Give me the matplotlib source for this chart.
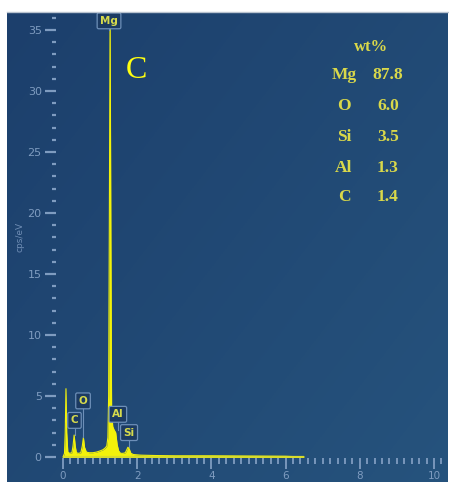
import matplotlib
matplotlib.use('Agg')
import matplotlib.pyplot as plt
import numpy as np
from matplotlib.ticker import MultipleLocator

# ---- data ----
energy = [0.00, 0.04, 0.06, 0.08, 0.10, 0.13, 0.18, 0.24, 0.27, 0.30, 0.33, 0.36,
          0.42, 0.48, 0.52, 0.55, 0.58, 0.63, 0.70, 0.80, 0.90, 1.00, 1.08, 1.14,
          1.18, 1.21, 1.23, 1.25, 1.27, 1.29, 1.31, 1.34, 1.38, 1.42, 1.46, 1.50,
          1.55, 1.62, 1.68, 1.72, 1.75, 1.78, 1.83, 1.90, 2.10, 2.50, 3.00, 4.00,
          5.00, 6.00, 6.50]
counts = [0.0, 0.3, 2.0, 5.6, 2.0, 0.4, 0.3, 0.35, 0.9, 1.8, 0.9, 0.35,
          0.3, 0.35, 0.9, 1.6, 0.8, 0.4, 0.35, 0.35, 0.4, 0.5, 0.6, 0.75,
          0.9, 1.6, 5.0, 20.0, 37.0, 18.0, 4.0, 2.5, 2.2, 2.0, 1.0, 0.5,
          0.3, 0.3, 0.35, 0.6, 0.8, 0.7, 0.3, 0.2, 0.15, 0.12, 0.1, 0.1,
          0.08, 0.06, 0.0]

peak_labels = ['C', 'O', 'Mg', 'Al', 'Si']
peak_energy = [0.31, 0.54, 1.24, 1.48, 1.78]
peak_top = [1.8, 1.6, 35.0, 2.2, 0.8]
label_y = [3.0, 4.6, 35.75, 3.5, 2.0]

elements = ['Mg', 'O', 'Si', 'Al', 'C']
wt_values = ['87.8', '6.0', '3.5', '1.3', '1.4']

sample_letter = 'C'

# ---- figure ----
W, H = 449, 482
fig = plt.figure(figsize=(W / 100, H / 100), dpi=100)
fig.patch.set_facecolor('white')

# background panel with a soft gradient
bg = fig.add_axes([7 / W, 0, (448 - 7) / W, (482 - 12) / H])
bg.set_axis_off()
gx, gy = np.meshgrid(np.linspace(0, 1, 200), np.linspace(0, 1, 200))
c0 = np.array([0x1c, 0x3f, 0x6c]) / 255
c1 = np.array([0x26, 0x53, 0x7d]) / 255
t = np.clip(0.55 * gx + 0.45 * (1 - gy), 0, 1)
img = c0[None, None, :] * (1 - t[..., None]) + c1[None, None, :] * t[..., None]
bg.imshow(img, aspect='auto', extent=[0, 1, 0, 1], origin='lower')
bg.set_xlim(0, 1)
bg.set_ylim(0, 1)
# top grey edge
fig.add_artist(plt.Line2D([7 / W, 448 / W], [1 - 12 / H, 1 - 12 / H],
                          color='#b9c3cf', lw=1.0, transform=fig.transFigure))

# main axes
px_per_x = 37.1
px_per_y = 12.2
x0_px, y0_px = 63, 457
left_px, right_px, bottom_px, top_px = 55.6, 448, 458, 12
ax = fig.add_axes([left_px / W, 1 - bottom_px / H,
                   (right_px - left_px) / W, (bottom_px - top_px) / H])
ax.set_facecolor('none')
ax.set_xlim((left_px - x0_px) / px_per_x, (right_px - x0_px) / px_per_x)
ax.set_ylim(-(bottom_px - y0_px) / px_per_y, (y0_px - top_px) / px_per_y)
for s in ax.spines.values():
    s.set_visible(False)

tick_c = '#7f9cc0'
ax.xaxis.set_major_locator(MultipleLocator(2))
ax.xaxis.set_minor_locator(MultipleLocator(0.2))
ax.yaxis.set_major_locator(MultipleLocator(5))
ax.yaxis.set_minor_locator(MultipleLocator(1))
ax.tick_params(axis='y', which='major', length=8, width=1.6, color=tick_c,
               labelcolor=tick_c, labelsize=8, pad=2)
ax.tick_params(axis='y', which='minor', length=3, width=1.6, color=tick_c)
ax.tick_params(axis='x', which='major', length=8, width=1.3, color=tick_c,
               labelcolor=tick_c, labelsize=7.5, pad=1.5)
ax.tick_params(axis='x', which='minor', length=4, width=1.3, color=tick_c)
ax.set_xticks([0, 2, 4, 6, 8, 10])
ax.set_xticklabels(['0', '2', '4', '6', '8', '10'])
ax.set_yticks([0, 5, 10, 15, 20, 25, 30, 35])
ax.set_yticklabels(['0', '5', '10', '15', '20', '25', '30', '35'])

# spectrum
yellow = '#f2f20a'
ax.fill_between(energy, counts, 0, color=yellow, lw=0)
ax.plot(energy, counts, color=yellow, lw=0.8)
ax.plot([0, 6.5], [0, 0], color='#d8dc2a', lw=1.6, solid_capstyle='butt')

# peak labels
for lab, e, top, ly in zip(peak_labels, peak_energy, peak_top, label_y):
    ax.plot([e, e], [top, ly], color='#6d8fb8', lw=0.8, zorder=3)
    ax.text(e, ly, lab, ha='center', va='center', fontsize=7.5,
            fontweight='bold', color='#d6da4c', zorder=4,
            bbox=dict(boxstyle='round,pad=0.28,rounding_size=0.15',
                      fc='#1b3a62', ec='#6d8fb8', lw=0.9))

fig.text(20 / W, 1 - 237 / H, 'cps/eV', rotation=90, ha='center', va='center',
         fontsize=6.5, color='#6f8db4')

# sample letter
fig.text(136 / W, 1 - 70 / H, sample_letter, ha='center', va='center',
         fontsize=23, color='#ffff10', family='Liberation Serif')

# composition table
tab_c = '#d9d84a'
fig.text(371 / W, 1 - 47 / H, 'wt%', ha='center', va='center', fontsize=12,
         fontweight='bold', color=tab_c, family='Liberation Serif')
row_y = [75, 106, 137, 168, 197]
for el, val, ry in zip(elements, wt_values, row_y):
    fig.text(344 / W, 1 - ry / H, el, ha='center', va='center', fontsize=12.5,
             fontweight='bold', color=tab_c, family='Liberation Serif')
    fig.text(388 / W, 1 - ry / H, val, ha='center', va='center', fontsize=12.5,
             fontweight='bold', color=tab_c, family='Liberation Serif')

fig.savefig('out.png', dpi=100)
